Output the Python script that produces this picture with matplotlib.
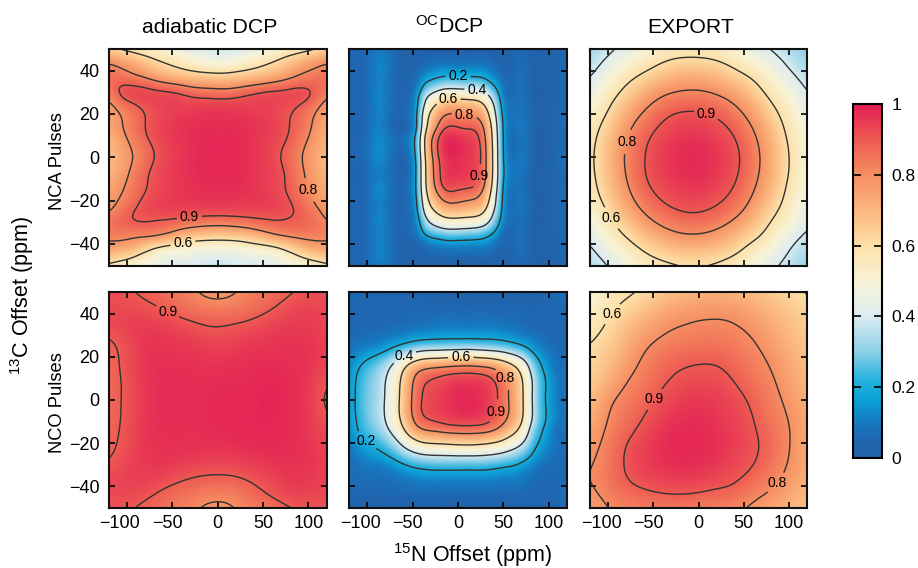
import numpy as np
import matplotlib
matplotlib.use("Agg")
import matplotlib.pyplot as plt
import matplotlib.tri as mtri
from matplotlib.colors import LinearSegmentedColormap, Normalize
from matplotlib.cm import ScalarMappable
from matplotlib.transforms import ScaledTranslation

plt.rcParams['font.family'] = ['Liberation Sans', 'DejaVu Sans']
plt.rcParams['mathtext.fontset'] = 'custom'
plt.rcParams['mathtext.rm'] = 'Liberation Sans'
plt.rcParams['mathtext.default'] = 'regular'

x_step20 = [-120, -100, -80, -60, -40, -20, 0, 20, 40, 60, 80, 100, 120]
y_step10 = [50, 40, 30, 20, 10, 0, -10, -20, -30, -40, -50]

a1_y = [50, 42, 36, 30, 24, 16, 8, 0, -8, -16, -24, -30, -36, -42, -50]
a1_z = [
 [.62,.57,.53,.49,.45,.41,.39,.40,.44,.49,.53,.57,.62],
 [.82,.77,.70,.63,.58,.54,.52,.54,.58,.63,.70,.77,.82],
 [.86,.86,.82,.76,.72,.69,.68,.69,.72,.76,.81,.85,.86],
 [.83,.93,.93,.91,.885,.85,.84,.85,.885,.91,.92,.91,.82],
 [.77,.87,.92,.94,.94,.94,.94,.94,.94,.94,.92,.87,.76],
 [.73,.82,.90,.94,.96,.97,.97,.97,.96,.94,.90,.82,.72],
 [.70,.795,.885,.94,.96,.98,.98,.98,.96,.94,.885,.795,.70],
 [.68,.77,.86,.93,.96,.98,.98,.98,.96,.93,.86,.77,.68],
 [.70,.79,.885,.94,.96,.98,.98,.98,.96,.94,.875,.78,.69],
 [.74,.82,.90,.94,.96,.97,.97,.97,.96,.94,.885,.80,.72],
 [.78,.87,.925,.94,.94,.94,.94,.94,.94,.94,.91,.85,.76],
 [.84,.89,.90,.89,.87,.85,.84,.85,.87,.89,.89,.87,.80],
 [.83,.83,.82,.79,.72,.68,.67,.68,.72,.78,.82,.83,.82],
 [.75,.73,.65,.57,.54,.51,.50,.51,.54,.57,.65,.73,.75],
 [.58,.52,.48,.44,.42,.40,.38,.40,.42,.44,.48,.52,.58],
]

a2_y = [50, 42, 34, 26, 16, 8, 0, -8, -16, -26, -34, -42, -50]
a2_z = [
 [.92,.905,.885,.86,.83,.79,.765,.79,.83,.86,.89,.91,.92],
 [.93,.93,.92,.90,.87,.85,.84,.85,.87,.90,.93,.94,.93],
 [.92,.94,.95,.945,.93,.91,.90,.91,.925,.945,.95,.95,.93],
 [.885,.925,.96,.96,.955,.945,.935,.945,.955,.96,.965,.96,.94],
 [.87,.92,.96,.97,.97,.965,.965,.97,.975,.975,.97,.96,.93],
 [.865,.915,.96,.975,.975,.97,.975,.975,.98,.985,.975,.955,.90],
 [.865,.915,.955,.975,.975,.975,.98,.98,.98,.99,.975,.95,.88],
 [.87,.915,.96,.975,.975,.975,.98,.98,.985,.985,.975,.955,.90],
 [.875,.92,.96,.97,.97,.97,.975,.98,.98,.98,.975,.955,.925],
 [.89,.93,.955,.965,.96,.955,.95,.955,.965,.97,.97,.96,.94],
 [.92,.94,.95,.945,.925,.91,.905,.91,.925,.945,.96,.955,.94],
 [.93,.935,.925,.895,.87,.85,.84,.85,.885,.92,.945,.945,.93],
 [.91,.905,.88,.85,.82,.795,.77,.795,.83,.86,.89,.905,.91],
]

b1_x = [-120,-100,-85,-65,-52,-44,-38,-30,-18,0,18,30,38,44,52,65,85,100,120]
b1_y = [50, 44, 38, 32, 26, 20, 12, 0, -12, -20, -26, -32, -38, -44, -50]
b1_z = [
 [.05,.06,.10,.03,.02,.02,.02,.02,.02,.02,.02,.02,.02,.02,.02,.05,.02,.02,.06],
 [.06,.07,.12,.04,.03,.04,.05,.07,.08,.08,.08,.08,.07,.05,.03,.07,.03,.03,.07],
 [.06,.07,.12,.04,.05,.08,.12,.15,.18,.18,.18,.16,.12,.09,.05,.07,.03,.03,.07],
 [.06,.07,.12,.04,.06,.12,.23,.30,.37,.38,.37,.325,.244,.17,.07,.08,.03,.03,.07],
 [.06,.07,.12,.04,.08,.19,.36,.50,.61,.64,.62,.54,.40,.26,.10,.08,.03,.03,.07],
 [.06,.07,.12,.04,.09,.22,.45,.63,.77,.80,.78,.68,.50,.32,.12,.09,.03,.03,.07],
 [.06,.07,.12,.04,.09,.25,.52,.73,.90,.93,.91,.79,.58,.37,.13,.09,.03,.03,.07],
 [.06,.08,.13,.04,.10,.27,.54,.77,.94,.98,.95,.83,.61,.39,.14,.09,.03,.03,.07],
 [.06,.07,.12,.04,.09,.26,.52,.74,.91,.94,.92,.80,.59,.38,.14,.09,.03,.03,.07],
 [.06,.07,.12,.04,.09,.23,.46,.65,.79,.82,.79,.69,.51,.33,.12,.09,.03,.03,.07],
 [.06,.07,.12,.04,.08,.19,.38,.53,.64,.67,.65,.57,.42,.28,.11,.08,.03,.03,.07],
 [.06,.07,.12,.04,.07,.14,.26,.36,.43,.45,.43,.38,.29,.20,.08,.08,.03,.03,.07],
 [.06,.07,.12,.04,.05,.08,.13,.17,.20,.21,.20,.18,.14,.10,.05,.07,.03,.03,.07],
 [.06,.07,.12,.04,.03,.04,.05,.07,.08,.08,.08,.08,.07,.05,.03,.07,.03,.03,.07],
 [.05,.06,.10,.03,.02,.02,.02,.02,.02,.02,.02,.02,.02,.02,.02,.05,.02,.02,.06],
]

b2_x = [-120,-105,-90,-75,-60,-48,-36,-18,0,18,36,48,60,72,84,96,108,120]
b2_y = [50, 38, 30, 24, 18, 12, 0, -12, -18, -24, -30, -38, -50]
b2_z = [
 [.06,.05,.05,.04,.04,.04,.04,.03,.03,.03,.03,.03,.03,.03,.04,.05,.06,.08],
 [.06,.05,.05,.06,.06,.07,.07,.08,.08,.08,.08,.07,.07,.06,.05,.05,.05,.06],
 [.06,.07,.08,.10,.12,.14,.15,.16,.16,.16,.16,.15,.13,.11,.09,.07,.06,.06],
 [.08,.12,.14,.19,.26,.31,.34,.35,.36,.36,.34,.32,.28,.23,.15,.10,.07,.06],
 [.11,.19,.25,.34,.49,.60,.66,.68,.70,.70,.67,.62,.54,.43,.26,.15,.09,.07],
 [.13,.24,.31,.43,.63,.79,.86,.89,.91,.91,.88,.81,.71,.56,.33,.19,.10,.08],
 [.14,.26,.33,.46,.67,.84,.92,.95,.98,.98,.94,.87,.76,.60,.35,.20,.11,.08],
 [.13,.24,.31,.43,.62,.78,.85,.88,.90,.90,.87,.80,.70,.55,.32,.19,.10,.08],
 [.11,.20,.25,.34,.49,.61,.67,.69,.71,.71,.68,.63,.55,.44,.26,.16,.09,.07],
 [.09,.14,.18,.24,.34,.41,.45,.46,.47,.47,.45,.42,.37,.30,.19,.12,.08,.06],
 [.07,.10,.11,.14,.19,.23,.25,.26,.26,.26,.25,.23,.21,.17,.12,.08,.07,.06],
 [.07,.07,.07,.08,.09,.10,.11,.11,.11,.11,.11,.10,.10,.09,.07,.06,.06,.07],
 [.03,.03,.03,.03,.03,.03,.03,.03,.03,.03,.03,.03,.04,.04,.04,.04,.05,.07],
]

c1_z = [
 [.32,.37,.42,.49,.53,.545,.55,.535,.50,.43,.385,.34,.29],
 [.37,.46,.54,.59,.645,.68,.68,.66,.61,.555,.49,.405,.345],
 [.44,.545,.63,.715,.78,.81,.815,.79,.74,.66,.565,.49,.39],
 [.52,.61,.725,.815,.88,.91,.91,.89,.84,.755,.645,.545,.45],
 [.555,.67,.79,.88,.93,.955,.96,.94,.90,.82,.705,.58,.485],
 [.57,.69,.815,.90,.95,.975,.98,.96,.92,.845,.73,.60,.50],
 [.56,.68,.80,.895,.94,.965,.97,.95,.91,.83,.72,.59,.49],
 [.535,.64,.755,.85,.905,.93,.935,.915,.87,.785,.675,.56,.465],
 [.47,.57,.67,.76,.825,.86,.865,.84,.785,.70,.595,.515,.41],
 [.39,.50,.57,.64,.70,.735,.74,.715,.66,.585,.525,.42,.355],
 [.34,.39,.48,.535,.565,.585,.59,.575,.545,.50,.41,.365,.31],
]

c2_z = [
 [.50,.55,.58,.605,.65,.68,.70,.71,.70,.68,.65,.62,.585],
 [.53,.59,.64,.69,.74,.77,.785,.79,.78,.75,.71,.67,.63],
 [.58,.63,.70,.76,.80,.82,.83,.83,.82,.795,.75,.70,.65],
 [.61,.67,.74,.81,.85,.875,.885,.885,.86,.825,.785,.73,.67],
 [.64,.71,.79,.84,.885,.915,.925,.92,.895,.85,.81,.755,.69],
 [.67,.78,.83,.875,.92,.945,.955,.945,.925,.885,.83,.78,.71],
 [.72,.805,.86,.91,.95,.97,.975,.96,.94,.905,.85,.80,.73],
 [.76,.83,.90,.94,.97,.985,.98,.97,.945,.915,.87,.805,.73],
 [.79,.845,.91,.945,.965,.975,.97,.955,.93,.905,.85,.795,.72],
 [.79,.84,.885,.91,.925,.93,.925,.91,.895,.85,.81,.76,.70],
 [.74,.795,.82,.83,.84,.84,.83,.82,.805,.78,.74,.71,.66],
]

titles = ['adiabatic DCP', r'$^{OC}$DCP', 'EXPORT']
title_x = [209.5, 449, 691]
row_labels = ['NCA Pulses', 'NCO Pulses']
row_label_y = [161, 403]
x_ticks = [-100, -50, 0, 50, 100]
y_ticks = [-40, -20, 0, 20, 40]
cbar_ticks = [0, .2, .4, .6, .8, 1]
cbar_labels = ['0', '0.2', '0.4', '0.6', '0.8', '1']

panels = [
 dict(x=x_step20, y=a1_y, z=a1_z, levels=[.6,.8,.9], labels=[(-31,-27.4),(-38,-39.7),(95,-16)], box=(108.5,49,326.5,265.5), soft=(5,1)),
 dict(x=b1_x, y=b1_y, z=b1_z, levels=[.2,.4,.6,.8,.9], labels=[(0,37),(21,31.4),(-11,27),(7,19.5),(20,-8.5)], box=(349,49,567,265.5), soft=(3.5,1.5)),
 dict(x=x_step20, y=y_step10, z=c1_z, levels=[.4,.6,.8,.9], labels=[(10,21.7),(-80,7.2),(-96,-28)], box=(590,49,807,265.5), soft=(7,3)),
 dict(x=x_step20, y=a2_y, z=a2_z, levels=[.8,.9], labels=[(-56,40)], box=(108.5,292,326.5,508), soft=(7,3)),
 dict(x=b2_x, y=b2_y, z=b2_z, levels=[.2,.4,.6,.8,.9], labels=[(-60,21),(3,20.3),(52,10.3),(42,-5.4),(-95,-15.8)], box=(349,292,567,508), soft=(4,1.5)),
 dict(x=x_step20, y=y_step10, z=c2_z, levels=[.6,.8,.9], labels=[(-96,40),(-53,1.5),(90,-39.7)], box=(590,292,807,508), soft=(7,3)),
]

cmap = LinearSegmentedColormap.from_list('dcp', [
 (0.00, '#2260aa'), (0.05, '#2066b0'), (0.10, '#1679bf'), (0.16, '#0ca0d6'), (0.22, '#25b2de'),
 (0.30, '#8ccfe8'), (0.40, '#dcedf2'), (0.50, '#f8f3d6'), (0.60, '#fde0a8'),
 (0.70, '#fbb77e'), (0.80, '#f68e62'), (0.90, '#ee5b52'), (1.00, '#e31e55')])
norm = Normalize(0, 1)

W, H = 918, 568
fig = plt.figure(figsize=(W/100, H/100), dpi=100)


def add_ax(box):
    l, t, r, b = box
    return fig.add_axes([l/W, 1-b/H, (r-l)/W, (b-t)/H])


def soften(z, dx, dy, sx, sy):
    for axis, step, s in ((1, dx, sx), (0, dy, sy)):
        n = int(3*s/step)
        k = np.exp(-0.5*(np.arange(-n, n+1)*step/s)**2)
        k /= k.sum()
        pad = [(0, 0), (0, 0)]
        pad[axis] = (n, n)
        zp = np.pad(z, pad, mode='edge')
        z = np.apply_along_axis(lambda v: np.convolve(v, k, mode='valid'), axis, zp)
    return z


for i, p in enumerate(panels):
    ax = add_ax(p['box'])
    X, Y = np.meshgrid(np.array(p['x'], float), np.array(p['y'], float))
    tri = mtri.Triangulation(X.ravel(), Y.ravel())
    interp = mtri.CubicTriInterpolator(tri, np.array(p['z'], float).ravel(), kind='min_E')
    xf, yf = np.meshgrid(np.linspace(-120, 120, 241), np.linspace(-50, 50, 201))
    zf = np.ma.filled(interp(xf, yf), np.nan)
    zf = soften(zf, 1.0, 0.5, *p['soft'])
    ax.imshow(zf, extent=(-120, 120, -50, 50), origin='lower', aspect='auto', cmap=cmap, norm=norm, interpolation='bilinear')
    cs = ax.contour(xf, yf, zf, levels=p['levels'], colors='#333333', linewidths=1.0)
    for t in ax.clabel(cs, fmt='%.1f', fontsize=10, colors='black', inline=True, inline_spacing=3, manual=p['labels']):
        t.set_rotation(0)
    ax.set_xlim(-120, 120)
    ax.set_ylim(-50, 50)
    ax.set_xticks(x_ticks)
    ax.set_yticks(y_ticks)
    ax.tick_params(direction='in', top=True, right=True, length=4, width=1.2, labelsize=13, color='black')
    ax.tick_params(axis='y', pad=6.5)
    ax.tick_params(axis='x', pad=5)
    for s in ax.spines.values():
        s.set_linewidth(1.5)
        s.set_color('#111111')
    if i < 3:
        ax.tick_params(labelbottom=False)
    else:
        ax.set_xticklabels(['\u2212100', '\u221250', '0', '50', '100'])
        for lab, shift in zip(ax.get_xticklabels(), [-7, -5, 0, 0, 0]):
            lab.set_transform(lab.get_transform() + ScaledTranslation(shift/100, 0, fig.dpi_scale_trans))
    if i % 3 != 0:
        ax.tick_params(labelleft=False)
    else:
        ax.set_yticklabels(['\u221240', '\u221220', '0', '20', '40'])

for name, xp in zip(titles, title_x):
    fig.text(xp/W, 1-33/H, name, ha='center', va='baseline', fontsize=15.3)
for name, yp in zip(row_labels, row_label_y):
    fig.text(57/W, 1-yp/H, name, rotation=90, ha='center', va='center', fontsize=13.2)

fig.text(22/W, 1-295/H, r'$^{13}$C Offset (ppm)', rotation=90, ha='center', va='center', fontsize=15.5)
fig.text(473/W, 1-555/H, r'$^{15}$N Offset (ppm)', ha='center', va='center', fontsize=15.5)

cax = add_ax((853, 104, 882, 458))
cb = fig.colorbar(ScalarMappable(norm=norm, cmap=cmap), cax=cax)
cb.set_ticks(cbar_ticks)
cb.set_ticklabels(cbar_labels)
cax.tick_params(direction='in', left=True, right=True, length=6, width=1.2, labelsize=12.5, pad=7)
cb.outline.set_linewidth(1.5)
cb.minorticks_off()

fig.savefig('out.png', dpi=100)
